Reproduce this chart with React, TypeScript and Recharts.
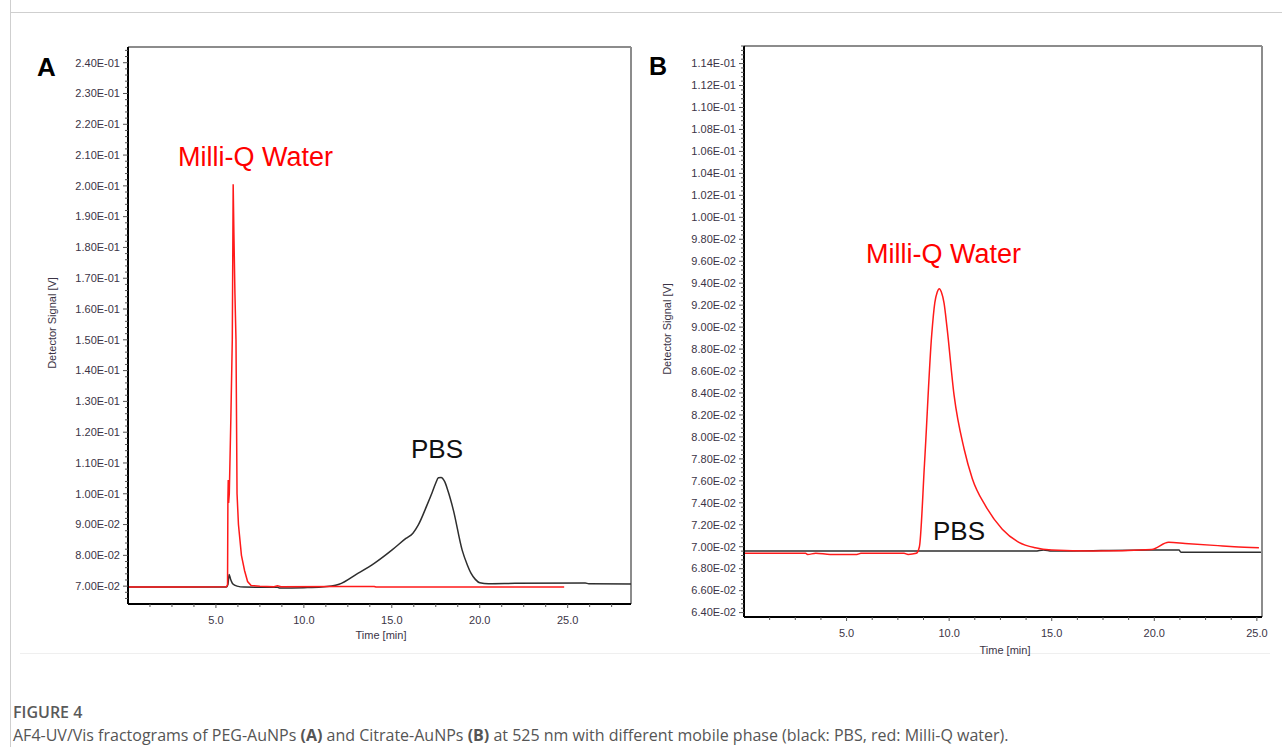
import React from "react";
import { LineChart, Line, XAxis, YAxis, ReferenceLine } from "recharts";

// Panel A (PEG-AuNPs) — time [min] / detector signal [V]
const A_PBS_T = [0, 3, 5.6, 5.68, 5.75, 5.82, 5.95, 6.2, 6.6, 8.5, 8.6, 10, 11, 12, 13, 14, 15, 15.8, 16.2, 16.5, 17, 17.3, 17.5, 17.65, 17.8, 18, 18.2, 18.5, 19, 19.3, 19.5, 19.75, 20, 20.5, 22, 26, 26.2, 28.6];
const A_PBS_V = [0.0697, 0.0697, 0.0697, 0.0705, 0.0738, 0.0725, 0.0708, 0.07, 0.0697, 0.0696, 0.0694, 0.0695, 0.0697, 0.0706, 0.0739, 0.0774, 0.0817, 0.0855, 0.0872, 0.0898, 0.0963, 0.1005, 0.1035, 0.1052, 0.1053, 0.104, 0.1008, 0.0947, 0.0817, 0.0768, 0.0742, 0.0722, 0.0711, 0.0708, 0.0709, 0.071, 0.0708, 0.0707];
const A_WATER_T = [0, 3, 5.6, 5.66, 5.68, 5.7, 5.72, 5.76, 5.85, 5.93, 5.98, 6.02, 6.08, 6.14, 6.2, 6.28, 6.45, 6.63, 6.8, 7, 7.5, 8.3, 8.5, 8.7, 12, 14, 14.1, 20, 24.8];
const A_WATER_V = [0.0697, 0.0697, 0.0698, 0.0705, 0.098, 0.1045, 0.097, 0.1, 0.125, 0.15, 0.2005, 0.185, 0.165, 0.15, 0.1, 0.09, 0.08, 0.075, 0.0715, 0.0702, 0.07, 0.0698, 0.0701, 0.0698, 0.0699, 0.0699, 0.0697, 0.0697, 0.0697];

// Panel B (Citrate-AuNPs)
const B_PBS_T = [0, 8.5, 14.2, 14.6, 15, 19.8, 21.2, 21.3, 25.2];
const B_PBS_V = [0.0696, 0.0696, 0.0696, 0.0697, 0.0696, 0.0697, 0.0697, 0.0695, 0.0695];
const B_WATER_T = [0, 3, 3.1, 3.5, 4.2, 5.5, 5.7, 7.8, 8, 8.4, 8.55, 8.8, 9.15, 9.3, 9.42, 9.52, 9.62, 9.75, 9.9, 10.24, 10.73, 11.13, 11.78, 12.59, 13.4, 14.2, 15, 17, 19.87, 20.7, 21.5, 23.1, 23.9, 25.1];
const B_WATER_V = [0.0694, 0.0694, 0.0693, 0.0694, 0.0693, 0.0693, 0.0694, 0.0694, 0.0693, 0.0694, 0.07, 0.0776, 0.0893, 0.0922, 0.0932, 0.0935, 0.0932, 0.0922, 0.0899, 0.0838, 0.0789, 0.0762, 0.0737, 0.0716, 0.0704, 0.0699, 0.0697, 0.0696, 0.06975, 0.0704, 0.0703, 0.0701, 0.07, 0.0699];

// tick labels
const X_MAJOR = [5, 10, 15, 20, 25];
const A_Y_MAJOR = [0.07, 0.08, 0.09, 0.1, 0.11, 0.12, 0.13, 0.14, 0.15, 0.16, 0.17, 0.18, 0.19, 0.2, 0.21, 0.22, 0.23, 0.24];
const B_Y_MAJOR = [0.064, 0.066, 0.068, 0.07, 0.072, 0.074, 0.076, 0.078, 0.08, 0.082, 0.084, 0.086, 0.088, 0.09, 0.092, 0.094, 0.096, 0.098, 0.1, 0.102, 0.104, 0.106, 0.108, 0.11, 0.112, 0.114];

const A_X_DOMAIN = [0, 28.6];
const A_Y_DOMAIN = [0.0642, 0.2451];
const B_X_DOMAIN = [0, 25.25];
const B_Y_DOMAIN = [0.0636, 0.1156];

const RED = "#ff1a1a";
const DARK = "#2e2e2e";
const LABEL = "#3b3446";
const FRAME = "#8c8c8c";

const zip = (t: number[], v: number[]) => t.map((x, i) => ({ t: x, v: v[i] }));

// minor tick helper (only for the small unlabelled ticks)
function steps(from: number, to: number, step: number) {
  const out: number[] = [];
  for (let k = 0; from + k * step <= to + 1e-9; k++) {
    out.push(Math.round((from + k * step) * 1e7) / 1e7);
  }
  return out;
}

function fmtE(v: number) {
  const [m, e] = v.toExponential(2).split("e");
  const sign = e[0] === "-" ? "-" : "+";
  return `${m}E${sign}${e.replace(/[+-]/, "").padStart(2, "0")}`;
}

const isMajor = (list: number[], v: number) => list.some((m) => Math.abs(m - v) < 1e-7);

const yTick = (majors: number[]) => (props: any) => {
  const { x, y, payload } = props;
  const major = isMajor(majors, payload.value);
  return (
    <g>
      <line x1={x} x2={x - (major ? 5 : 3)} y1={y} y2={y} stroke="#555" strokeWidth={1} />
      {major && (
        <text x={x - 8} y={y} dy={3.8} textAnchor="end" fontSize={11} fill={LABEL} fontFamily="Arial, 'Liberation Sans'">
          {fmtE(payload.value)}
        </text>
      )}
    </g>
  );
};

const xTick = (props: any) => {
  const { x, y, payload } = props;
  const major = isMajor(X_MAJOR, payload.value);
  return (
    <g>
      <line x1={x} x2={x} y1={y} y2={y + (major ? 4 : 3)} stroke="#555" strokeWidth={1} />
      {major && (
        <text x={x} y={y + 20} textAnchor="middle" fontSize={11} fill={LABEL} fontFamily="Arial, 'Liberation Sans'">
          {payload.value.toFixed(1)}
        </text>
      )}
    </g>
  );
};

function Panel({
  left, width, margin, xDomain, yDomain, yMajor, yStep, pbs, water, waterCurve,
}: {
  left: number; width: number; margin: any; xDomain: number[]; yDomain: number[];
  yMajor: number[]; yStep: number; pbs: { t: number; v: number }[]; water: { t: number; v: number }[];
  waterCurve: "linear" | "monotone";
}) {
  const xTicks = steps(1.25, xDomain[1], 1.25);
  const yTicks = steps(yMajor[0] - Math.floor((yMajor[0] - yDomain[0]) / yStep) * yStep, yDomain[1], yStep);
  return (
    <div style={{ position: "absolute", left, top: 0 }}>
      <LineChart width={width} height={660} margin={margin}>
        <XAxis
          dataKey="t"
          type="number"
          domain={xDomain}
          allowDataOverflow
          ticks={xTicks}
          interval={0}
          tickSize={0}
          tickMargin={0}
          height={30}
          tick={xTick}
          tickLine={false}
          axisLine={{ stroke: "#000", strokeWidth: 2 }}
        />
        <YAxis
          dataKey="v"
          type="number"
          domain={yDomain}
          allowDataOverflow
          ticks={yTicks}
          interval={0}
          tickSize={0}
          tickMargin={0}
          width={80}
          tick={yTick(yMajor)}
          tickLine={false}
          axisLine={{ stroke: "#000", strokeWidth: 2 }}
        />
        <ReferenceLine y={yDomain[1]} stroke={FRAME} strokeWidth={2} />
        <ReferenceLine x={xDomain[1]} stroke={FRAME} strokeWidth={2} />
        <Line data={pbs} dataKey="v" type="monotone" stroke={DARK} strokeWidth={1.5} dot={false} isAnimationActive={false} />
        <Line data={water} dataKey="v" type={waterCurve} stroke={RED} strokeWidth={1.5} dot={false} isAnimationActive={false} />
      </LineChart>
    </div>
  );
}

const txt = "Arial, 'Liberation Sans', sans-serif";

export default function App() {
  return (
    <div style={{ position: "absolute", left: 0, top: 0, width: 1282, height: 747, background: "#fff", overflow: "hidden" }}>
      {/* figure frame */}
      <div style={{ position: "absolute", left: 10, top: 0, width: 1, height: 747, background: "#cfcfcf" }} />
      <div style={{ position: "absolute", left: 10, top: 12, width: 1272, height: 1, background: "#cfcfcf" }} />
      <div style={{ position: "absolute", left: 20, top: 653, width: 1250, height: 1, background: "#efefef" }} />

      <Panel
        left={0}
        width={640}
        margin={{ top: 47, right: 9, bottom: 26, left: 48 }}
        xDomain={A_X_DOMAIN}
        yDomain={A_Y_DOMAIN}
        yMajor={A_Y_MAJOR}
        yStep={0.002}
        pbs={zip(A_PBS_T, A_PBS_V)}
        water={zip(A_WATER_T, A_WATER_V)}
        waterCurve="linear"
      />
      <Panel
        left={640}
        width={640}
        margin={{ top: 46, right: 18, bottom: 13, left: 24 }}
        xDomain={B_X_DOMAIN}
        yDomain={B_Y_DOMAIN}
        yMajor={B_Y_MAJOR}
        yStep={0.0004}
        pbs={zip(B_PBS_T, B_PBS_V)}
        water={zip(B_WATER_T, B_WATER_V)}
        waterCurve="monotone"
      />

      <svg width={1282} height={747} style={{ position: "absolute", left: 0, top: 0, pointerEvents: "none" }}>
        <g fontFamily={txt}>
          <text x={37} y={76} fontSize={26} fontWeight="bold" fill="#000">A</text>
          <text x={649} y={75} fontSize={25} fontWeight="bold" fill="#000">B</text>
          <text x={178} y={166} fontSize={27} fill="#ff0000">Milli-Q Water</text>
          <text x={411} y={458} fontSize={26} fill="#111">PBS</text>
          <text x={866} y={263} fontSize={27} fill="#ff0000">Milli-Q Water</text>
          <text x={933} y={540} fontSize={26} fill="#111">PBS</text>
          <text x={55.5} y={323} fontSize={11} fill={LABEL} textAnchor="middle" transform="rotate(-90 55.5 323)">Detector Signal [V]</text>
          <text x={670.5} y={329} fontSize={11} fill={LABEL} textAnchor="middle" transform="rotate(-90 670.5 329)">Detector Signal [V]</text>
          <text x={381} y={639} fontSize={11} fill={LABEL} textAnchor="middle">Time [min]</text>
          <text x={1005} y={654} fontSize={11} fill={LABEL} textAnchor="middle">Time [min]</text>
        </g>
      </svg>

      <div style={{ position: "absolute", left: 13, top: 701, fontFamily: "'Open Sans', sans-serif", fontSize: 16, fontWeight: 600, color: "#5a5a5a", lineHeight: "22px" }}>
        FIGURE 4
      </div>
      <div style={{ position: "absolute", left: 13, top: 724, fontFamily: "'Open Sans', sans-serif", fontSize: 16, color: "#555", lineHeight: "22px", whiteSpace: "nowrap" }}>
        AF4-UV/Vis fractograms of PEG-AuNPs <b>(A)</b> and Citrate-AuNPs <b>(B)</b> at 525 nm with different mobile phase (black: PBS, red: Milli-Q water).
      </div>
    </div>
  );
}
